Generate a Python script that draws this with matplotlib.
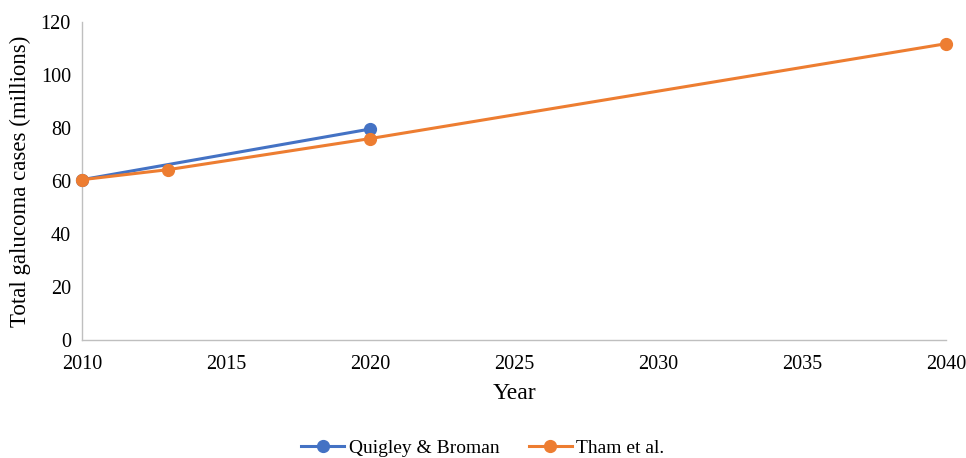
import matplotlib
matplotlib.use("Agg")
import matplotlib.pyplot as plt

plt.rcParams['font.family'] = ['Liberation Serif', 'DejaVu Serif']

quigley_years = [2010, 2020]
quigley_cases = [60.5, 79.6]
tham_years = [2010, 2013, 2020, 2040]
tham_cases = [60.5, 64.3, 76.0, 111.8]
x_ticks = [2010, 2015, 2020, 2025, 2030, 2035, 2040]
y_ticks = [0, 20, 40, 60, 80, 100, 120]

fig = plt.figure(figsize=(9.66, 4.58), dpi=100)
ax = fig.add_axes([0.0849, 0.2576, 0.8944, 0.6944])

ax.plot(quigley_years, quigley_cases, color='#4472C4', lw=2.2, marker='o',
        ms=8.5, label='Quigley & Broman', zorder=3)
ax.plot(tham_years, tham_cases, color='#ED7D31', lw=2.2, marker='o',
        ms=8.5, label='Tham et al.', zorder=4)

ax.set_xlim(2010, 2040)
ax.set_ylim(0, 120)
ax.set_xticks(x_ticks)
ax.set_yticks(y_ticks)
ax.tick_params(length=0, labelsize=14.5, colors='black', pad=8)
ax.tick_params(axis='x', pad=11)

for s in ('top', 'right'):
    ax.spines[s].set_visible(False)
for s in ('left', 'bottom'):
    ax.spines[s].set_color('#BFBFBF')
    ax.spines[s].set_linewidth(1.0)
ax.patch.set_visible(False)
for line in ax.get_lines():
    line.set_clip_on(False)

ax.set_xlabel('Year', fontsize=17, labelpad=6)
ax.set_ylabel('Total galucoma cases (millions)', fontsize=16.5, labelpad=7)

fig.legend(loc='center', bbox_to_anchor=(0.5, 0.022), ncol=2, frameon=False,
           fontsize=14, handlelength=2.2, columnspacing=1.5, handletextpad=0.25)

fig.savefig('out.png', dpi=100)
